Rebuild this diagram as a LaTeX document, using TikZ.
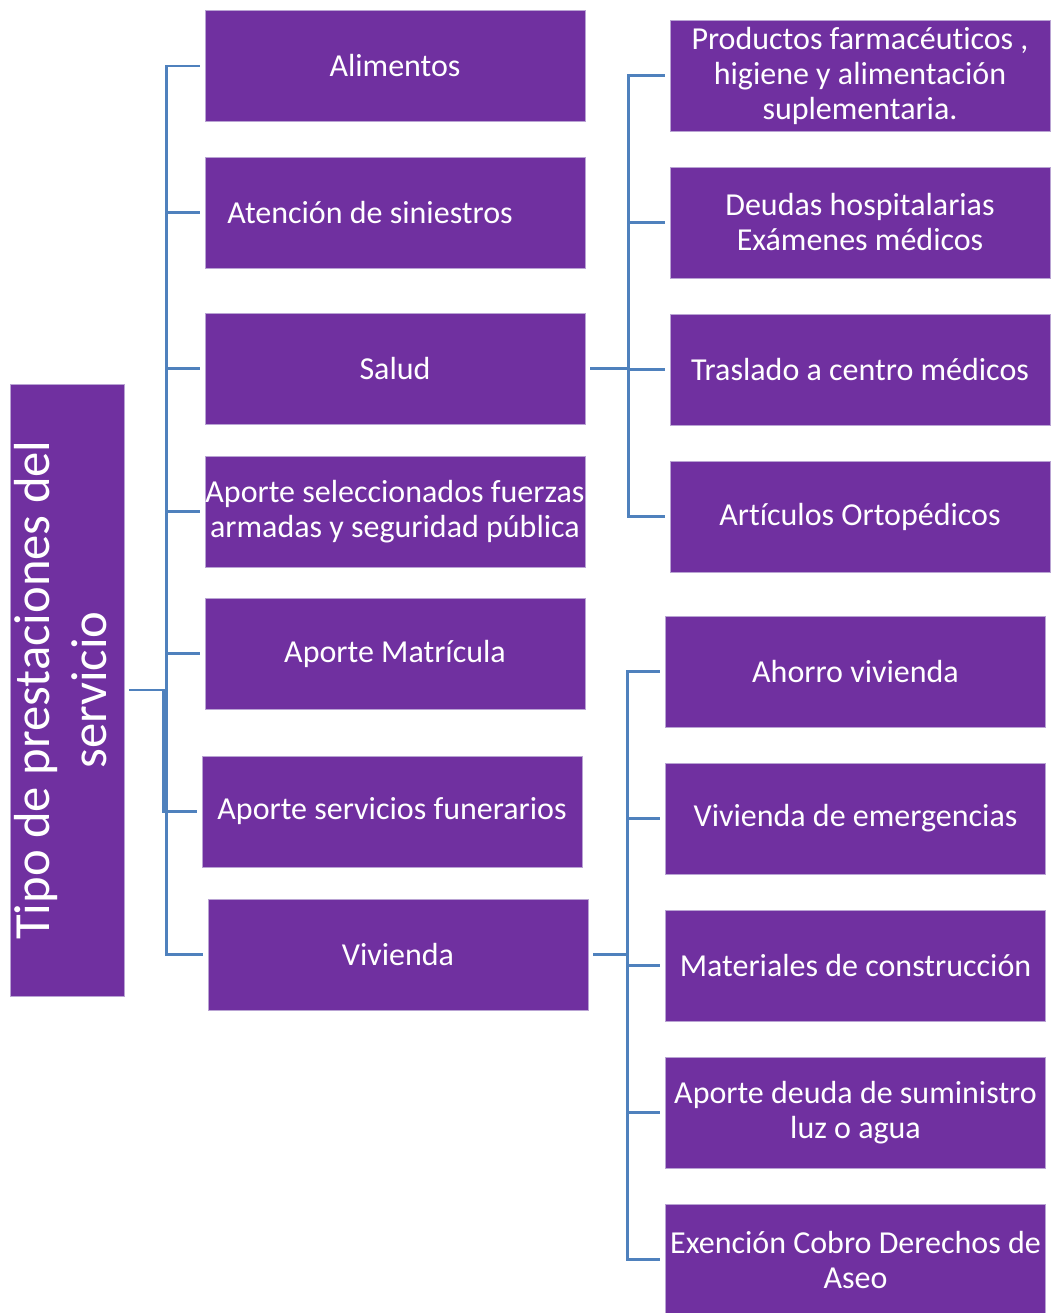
\documentclass[tikz,border=0pt]{standalone}
\usepackage{fontspec}
\setmainfont{Carlito}[Ligatures=NoCommon]
\usepackage{graphicx}
\usepackage{xcolor}
\usepackage{tikz}
\usetikzlibrary{positioning}

\definecolor{boxpurple}{HTML}{7030A0}
\definecolor{boxedge}{HTML}{B9A3D3}
\definecolor{linkblue}{HTML}{4F81BD}

\begin{document}
\begin{tikzpicture}[
    x=0.75pt, y=-0.75pt,
    itembox/.style={
        rectangle,
        fill=boxpurple,
        draw=boxedge,
        line width=0.5pt,
        text=white,
        align=center,
        inner sep=0pt,
        minimum width=285pt,
        minimum height=83.25pt,
        font=\fontsize{24}{26.25}\selectfont
    },
    rootbox/.style={
        itembox,
        minimum width=84pt,
        minimum height=459pt
    },
    link/.style={draw=linkblue, line width=1.8pt, shorten <=3.75pt, shorten >=3.75pt}
]

\useasboundingbox (0,0) rectangle (1050,1313);

% root
\node[rootbox] (tipo) at (67,690) {\rotatebox{90}{\fontsize{38}{42.75}\selectfont
    \begin{tabular}{@{}c@{}}Tipo de prestaciones del\\ servicio\end{tabular}}};

% first level
\node[itembox] (alimentos) at (395,66) {Alimentos};
\node[itembox] (siniestros) at (395,212.5) {Atenci\'on de siniestros\hspace*{37.5pt}};
\node[itembox] (salud) at (395,368.5) {Salud};
\node[itembox] (fuerzas) at (395,511.5) {Aporte seleccionados fuerzas\\armadas y seguridad p\'ublica};
\node[itembox] (matricula) at (395,653.5) {Aporte Matr\'icula};
\node[itembox] (funerarios) at (392,811.5) {Aporte servicios funerarios};
\node[itembox] (vivienda) at (398,954.5) {Vivienda};

% salud
\node[itembox] (farmacia) at (860,75.5) {Productos farmac\'euticos ,\\higiene y alimentaci\'on\\suplementaria.};
\node[itembox] (deudas) at (860,222.5) {Deudas hospitalarias\\Ex\'amenes m\'edicos};
\node[itembox] (traslado) at (860,369.5) {Traslado a centro m\'edicos};
\node[itembox] (ortopedicos) at (860,516.5) {Art\'iculos Ortop\'edicos};

% vivienda
\node[itembox] (ahorro) at (855.5,671.5) {Ahorro vivienda};
\node[itembox] (emergencia) at (855.5,818.5) {Vivienda de emergencias};
\node[itembox] (materiales) at (855.5,965.5) {Materiales de construcci\'on};
\node[itembox] (suministro) at (855.5,1112.5) {Aporte deuda de suministro\\luz o agua};
\node[itembox] (aseo) at (855.5,1259.5) {Exenci\'on Cobro Derechos de\\Aseo};

\foreach \child in {alimentos, siniestros, salud, fuerzas, matricula, vivienda}
    \draw[link] (tipo.east) -- ++(42,0) |- (\child.west);
\draw[link] (tipo.east) -- ++(39,0) |- (funerarios.west);

\foreach \child in {farmacia, deudas, traslado, ortopedicos}
    \draw[link] (salud.east) -- ++(43,0) |- (\child.west);

\foreach \child in {ahorro, emergencia, materiales, suministro, aseo}
    \draw[link] (vivienda.east) -- ++(39,0) |- (\child.west);

\end{tikzpicture}
\end{document}
